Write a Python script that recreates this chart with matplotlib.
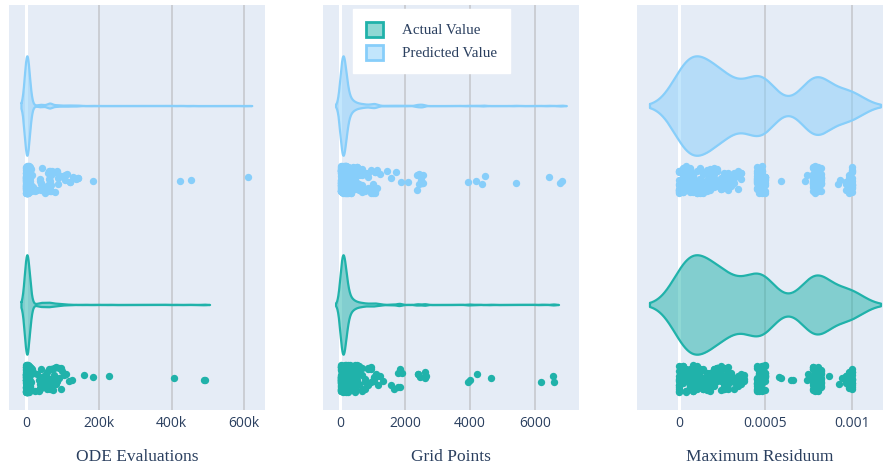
import numpy as np
import matplotlib
matplotlib.use("Agg")
import matplotlib.pyplot as plt
from matplotlib.patches import Patch
from matplotlib.colors import to_rgba

# ---------------- data (value, how many samples at that value) ----------------
categories = ["Actual Value", "Predicted Value"]
cat_colors = ["#20B2AA", "#87CEFA"]

ode_actual_values = [
    500, 1000, 1500, 2000, 2500, 3000, 3500, 4000, 4500, 5000, 6000, 7000, 8000, 9000,
    10000, 11000, 12500,
    14500, 17800, 21500, 26000, 30500, 35000, 38000, 41500, 45000, 48500, 52000, 55500,
    59000, 62500, 65500, 68000, 71000, 74500, 78000, 82000, 86000, 90000, 95000, 99000,
    104000, 111000, 118000, 126000,
    160000, 185000, 229000, 408000, 488000, 493000,
]
ode_actual_counts = [
    10, 18, 24, 30, 34, 36, 34, 30, 26, 22, 18, 14, 11, 9, 7, 5, 4,
    1, 1, 1, 1, 1, 2, 3, 3, 3, 3, 3, 2,
    3, 3, 3, 3, 2, 2, 2, 2, 2, 2, 2, 1,
    1, 1, 1, 1,
    1, 1, 1, 1, 1, 1,
]
ode_predicted_values = [
    500, 1000, 1500, 2000, 2500, 3000, 3500, 4000, 4500, 5000, 6000, 7000, 8000, 9000,
    10000, 11000, 12500,
    15800, 19500, 24200, 31000, 38500, 41200, 44000, 52000, 61000, 64500, 66000, 67200,
    68800, 72000, 79000, 84000, 89000, 96000, 107000, 114000, 121000, 128000, 137000,
    144000,
    185000, 422000, 454000, 609000,
]
ode_predicted_counts = [
    9, 17, 23, 29, 33, 35, 33, 29, 25, 21, 17, 13, 10, 8, 6, 5, 4,
    1, 1, 1, 1, 2, 3, 2, 2, 2, 3, 4, 3,
    2, 2, 1, 2, 2, 1, 2, 1, 2, 1, 1,
    2,
    1, 1, 1, 1,
]
grid_actual_values = [
    20, 40, 60, 80, 100, 120, 140, 160, 180, 200, 230, 260, 300, 350, 400, 460, 530, 600,
    680, 760, 850, 950, 1050, 1100, 1180, 1230,
    1333, 1559, 1650, 1800, 1846, 1900, 2389, 2450, 2615, 2640,
    3948, 3990, 4205, 4636, 6184, 6564, 6600,
]
grid_actual_counts = [
    12, 22, 30, 34, 34, 30, 26, 22, 18, 15, 13, 11, 9, 8, 7, 6, 5, 4,
    4, 3, 3, 3, 3, 2, 2, 1,
    1, 1, 1, 2, 2, 1, 2, 1, 2, 1,
    1, 1, 1, 1, 1, 1, 1,
]
grid_predicted_values = [
    20, 40, 60, 80, 100, 120, 140, 160, 180, 200, 230, 260, 300, 350, 400, 460, 530, 600,
    680, 760, 850, 950, 1020, 1080, 1150, 1230,
    1436, 1560, 1723, 1877, 2082, 2359, 2420, 2480, 2530, 2564,
    3948, 4174, 4379, 4461, 5405, 6420, 6769, 6840,
]
grid_predicted_counts = [
    12, 22, 30, 34, 34, 30, 26, 22, 18, 15, 13, 11, 9, 8, 7, 6, 5, 4,
    4, 3, 3, 3, 3, 4, 2, 1,
    1, 1, 1, 1, 1, 2, 2, 1, 2, 2,
    1, 1, 1, 1, 1, 1, 1, 1,
]
# maximum residuum, values in units of 1e-6
res_actual_values_u = [
    0, 20, 40, 60, 80, 100, 120, 140, 160, 180, 200, 220, 240, 260, 280, 300, 320, 340,
    360, 378,
    450, 465, 480, 495,
    580, 592, 648, 662, 738, 746,
    775, 790, 805, 820,
    868, 928, 941,
    965, 985, 1000,
]
res_actual_counts = [
    12, 12, 12, 12, 12, 9, 9, 8, 8, 8, 7, 7, 7, 7, 7, 4, 4, 4,
    3, 3,
    12, 14, 14, 10,
    1, 1, 1, 1, 1, 1,
    12, 14, 14, 10,
    1, 1, 1,
    5, 6, 12,
]
res_predicted_values_u = [
    0, 20, 40, 60, 80, 100, 120, 140, 160, 180, 200, 220, 240, 260, 280, 300, 320, 340,
    360,
    450, 465, 480, 495,
    590, 728, 742,
    775, 790, 805, 820,
    918, 935,
    965, 985, 1000,
]
res_predicted_counts = [
    12, 12, 12, 12, 12, 9, 9, 8, 8, 8, 7, 7, 7, 7, 7, 4, 4, 4,
    3,
    12, 14, 14, 10,
    1, 1, 1,
    12, 14, 14, 10,
    1, 1,
    5, 6, 12,
]

panel_titles = ["ODE Evaluations", "Grid Points", "Maximum Residuum"]
tick_values = [[0, 200000, 400000, 600000], [0, 2000, 4000, 6000], [0, 0.0005, 0.001]]
tick_labels = [["0", "200k", "400k", "600k"], ["0", "2000", "4000", "6000"],
               ["0", "0.0005", "0.001"]]

panels = [
    [np.repeat(ode_actual_values, ode_actual_counts),
     np.repeat(ode_predicted_values, ode_predicted_counts)],
    [np.repeat(grid_actual_values, grid_actual_counts),
     np.repeat(grid_predicted_values, grid_predicted_counts)],
    [np.repeat(np.array(res_actual_values_u) * 1e-6, res_actual_counts),
     np.repeat(np.array(res_predicted_values_u) * 1e-6, res_predicted_counts)],
]

# ---------------- style ----------------
W, H = 883, 468
BG = "#E5ECF6"
GRID = "#C4C6CA"
TXT = "#2a3f5f"
bandwidths = [6500, 70, 85e-6]
min_spreads = [3000, 60, 3e-6]
xlims = [(-46700, 657000), (-523, 7354), (-0.0002436, 0.0011816)]
ax_px = [(9, 265), (323, 579), (637.3, 883)]
top_px, bot_px = 5, 410
ylim = (-0.528, 1.508)
half_w = 0.25
pt_off = -0.37
jit = 0.068

fig = plt.figure(figsize=(W / 100, H / 100), dpi=100)
fig.patch.set_facecolor("white")


def kde(vals, bw, n=4000):
    d = np.asarray(vals, float)
    xs = np.linspace(d.min() - 2 * bw, d.max() + 2 * bw, n)
    dens = np.exp(-0.5 * ((xs[:, None] - d[None, :]) / bw) ** 2).sum(axis=1)
    return xs, dens


def jitter_factors(v, min_spread, k=5):
    n = len(v)
    out = np.empty(n)
    for i in range(n):
        i0, i1 = max(0, i - k), min(n - 1, i + k)
        f = np.sqrt(min_spread * (i1 - i0) / (v[i1] - v[i0] + min_spread))
        out[i] = min(1.0, f)
    return out / out.max()


for p, (series, bw, ms, xl, (l, r)) in enumerate(
        zip(panels, bandwidths, min_spreads, xlims, ax_px)):
    ax = fig.add_axes([l / W, 1 - bot_px / H, (r - l) / W, (bot_px - top_px) / H])
    ax.set_facecolor(BG)
    for s in ax.spines.values():
        s.set_visible(False)
    ax.set_xlim(*xl)
    ax.set_ylim(*ylim)
    ax.set_yticks([])
    ax.set_xticks(tick_values[p])
    ax.set_xticklabels(tick_labels[p], fontfamily="Open Sans", fontsize=10, color=TXT)
    ax.tick_params(axis="x", length=0, pad=4)
    ax.grid(axis="x", color=GRID, lw=1.1, zorder=0)
    ax.set_axisbelow(True)
    ax.axvline(0, color="white", lw=2.2, zorder=1)
    ax.set_xlabel(panel_titles[p], fontfamily="Liberation Serif", fontsize=12.5,
                  color=TXT, labelpad=13.5)

    for c, (vals, col) in enumerate(zip(series, cat_colors)):
        xs, dens = kde(vals, bw)
        hw = dens / dens.max() * half_w
        ax.fill_between(xs, c - hw, c + hw, color=col, alpha=0.5, lw=0, zorder=2)
        ox = np.concatenate([xs, xs[::-1], xs[:1]])
        oy = np.concatenate([c + hw, (c - hw)[::-1], [c + hw[0]]])
        ax.plot(ox, oy, color=col, lw=1.6, solid_joinstyle="round",
                solid_capstyle="round", zorder=3)
        v = np.sort(np.asarray(vals, float))
        jf = jitter_factors(v, ms)
        idx = np.arange(len(v))
        u = np.modf(np.abs(np.sin(idx * 12.9898 + (p * 2 + c) * 78.233) * 43758.5453))[0]
        offs = (u - 0.5) * 2 * jit * jf
        ax.scatter(v, c + pt_off + offs, s=28, color=col, lw=0, zorder=4)

handles = [Patch(facecolor=to_rgba(col, 0.5), edgecolor=col, lw=2, label=lab)
           for lab, col in zip(categories, cat_colors)]
leg = fig.legend(handles=handles, loc="upper left",
                 bbox_to_anchor=(353 / W, 1 - 9 / H),
                 prop={"family": "Liberation Serif", "size": 10.8},
                 frameon=True, fancybox=False, facecolor="white", edgecolor="white",
                 framealpha=1, handlelength=1.15, handleheight=1.15, handletextpad=1.25,
                 borderpad=0.85, labelspacing=0.5, borderaxespad=0)
for t in leg.get_texts():
    t.set_color(TXT)

fig.savefig("out.png", dpi=100, facecolor="white")
